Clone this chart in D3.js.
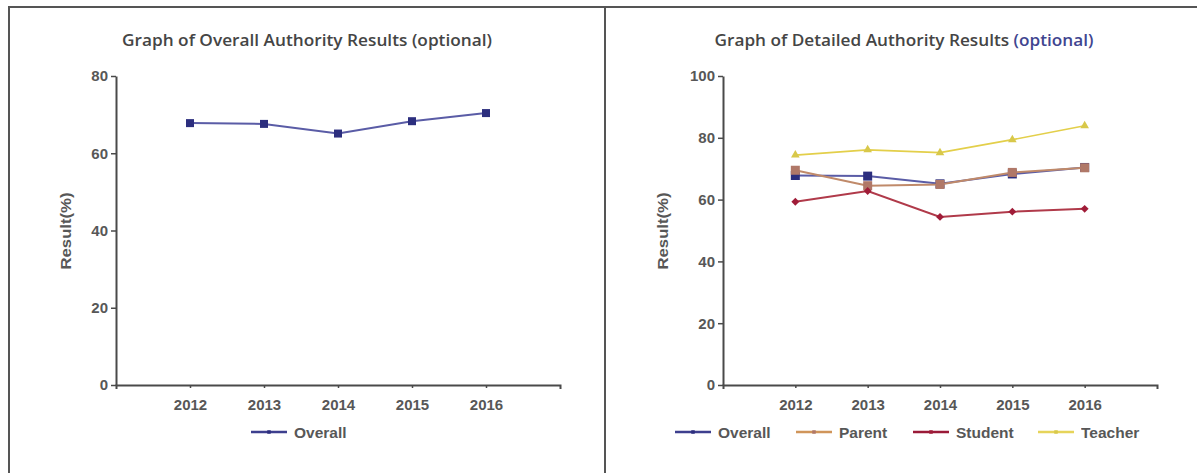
<!DOCTYPE html>
<html><head><meta charset="utf-8">
<script src="https://cdn.jsdelivr.net/npm/d3@7"></script>
<style>
html,body{margin:0;padding:0;background:#fff;}
svg{display:block;}
</style></head>
<body>
<svg id="c" width="1197" height="473"></svg>
<script>
const years = ["2012","2013","2014","2015","2016"];
const overall = [67.8, 67.6, 65.1, 68.3, 70.4];
const parent  = [69.5, 64.5, 64.9, 68.8, 70.3];
const student = [59.3, 62.8, 54.4, 56.1, 57.0];
const teacher = [74.4, 76.1, 75.2, 79.4, 83.9];
const leftTicks = [0, 20, 40, 60, 80];
const rightTicks = [0, 20, 40, 60, 80, 100];
const seriesNames = ["Overall", "Parent", "Student", "Teacher"];

const svg = d3.select("#c");
const axisColor = "#4a4a4a";
const textColor = "#3a3a3a";
const tickFont = "Liberation Sans, Arial, sans-serif";

// frame
svg.append("line").attr("x1",9).attr("x2",1197).attr("y1",7).attr("y2",7).attr("stroke","#555").attr("stroke-width",2.2);
svg.append("line").attr("x1",9).attr("x2",9).attr("y1",6).attr("y2",473).attr("stroke","#555").attr("stroke-width",2);
svg.append("line").attr("x1",605).attr("x2",605).attr("y1",6).attr("y2",473).attr("stroke","#555").attr("stroke-width",2);

function styleAxis(g){
  g.select(".domain").attr("stroke",axisColor).attr("stroke-width",2);
  g.selectAll(".tick line").attr("stroke",axisColor).attr("stroke-width",1.5);
  g.selectAll(".tick text").attr("fill",textColor).attr("font-family",tickFont)
    .attr("font-size",15).attr("font-weight","bold").style("opacity",0.85);
}

function marker(g, type, x, y, color, size){
  if(type==="square"){
    g.append("rect").attr("x",x-size/2).attr("y",y-size/2).attr("width",size).attr("height",size).attr("fill",color);
  } else if(type==="diamond"){
    g.append("path").attr("d",d3.symbol(d3.symbolDiamond2, size*size*1.1)()).attr("transform",`translate(${x},${y})`).attr("fill",color);
  } else if(type==="triangle"){
    g.append("path").attr("d",d3.symbol(d3.symbolTriangle, size*size*0.9)()).attr("transform",`translate(${x},${y})`).attr("fill",color);
  }
}

function panel(opts){
  const g = svg.append("g");
  const x = d3.scalePoint().domain(years).range([opts.x0, opts.x1]).padding(1);
  const y = d3.scaleLinear().domain([0, opts.ymax]).range([385, 76]);

  // title
  const t = g.append("text").attr("x",opts.titleX).attr("y",46).attr("text-anchor","middle")
    .attr("font-family","Open Sans, Noto Sans, sans-serif").attr("font-size",16.5).attr("font-weight",600)
    .attr("fill","#454545").attr("textLength",opts.titleW).attr("lengthAdjust","spacingAndGlyphs");
  t.append("tspan").text(opts.title);
  t.append("tspan").attr("fill",opts.optColor).text(" (optional)");

  // axes
  const ya = g.append("g").attr("transform",`translate(${opts.x0},0)`)
    .call(d3.axisLeft(y).tickValues(opts.ticks).tickSize(5).tickSizeOuter(0).tickPadding(3));
  styleAxis(ya);
  const xa = g.append("g").attr("transform","translate(0,385)")
    .call(d3.axisBottom(x).tickSize(3).tickSizeOuter(4).tickPadding(8));
  styleAxis(xa);
  xa.selectAll(".tick text").attr("dy","0.9em");

  // y label
  g.append("text").attr("transform",`translate(${opts.labelX},231) rotate(-90)`).attr("text-anchor","middle")
    .attr("dy","0.35em").attr("font-family",tickFont).attr("font-size",14.5)
    .attr("font-weight","bold").attr("fill",textColor).style("opacity",0.85)
    .attr("textLength",77).attr("lengthAdjust","spacingAndGlyphs").text("Result(%)");

  const line = d3.line().x((d,i)=>x(years[i])).y(d=>y(d));
  opts.series.forEach(s=>{
    g.append("path").datum(s.values).attr("d",line).attr("fill","none")
      .attr("stroke",s.lineColor).attr("stroke-width",s.width);
    s.values.forEach((v,i)=>marker(g, s.marker, x(years[i]), y(v), s.markColor, s.size));
  });

  // legend
  opts.series.forEach((s,i)=>{
    const lx = opts.legendX[i];
    g.append("line").attr("x1",lx).attr("x2",lx+36).attr("y1",432).attr("y2",432)
      .attr("stroke",s.legendColor).attr("stroke-width",2.5);
    marker(g, "square", lx+18, 432, s.markColor, 3.5);
    g.append("text").attr("x",lx+43).attr("y",432).attr("dy","0.36em")
      .attr("font-family",tickFont).attr("font-size",15.5)
      .attr("font-weight","bold").attr("fill",textColor).style("opacity",0.85)
      .text(seriesNames[i]);
  });
}

panel({
  x0:116, x1:560, ymax:80, ticks:leftTicks, titleX:307, titleW:370, labelX:66,
  title:"Graph of Overall Authority Results", optColor:"#454545",
  legendX:[251],
  series:[
    {values:overall, lineColor:"#5a5ca6", markColor:"#2c2e7e", legendColor:"#3d3f8e", marker:"square", size:8, width:2}
  ]
});

panel({
  x0:723, x1:1157, ymax:100, ticks:rightTicks, titleX:904, titleW:379, labelX:663,
  title:"Graph of Detailed Authority Results", optColor:"#3f4590",
  legendX:[675, 796, 913, 1038],
  series:[
    {values:overall, lineColor:"#5a5ca6", markColor:"#2c2e7e", legendColor:"#3d3f8e", marker:"square", size:9, width:2},
    {values:parent, lineColor:"#c08a6a", markColor:"#b07868", legendColor:"#d0955a", marker:"square", size:9, width:2},
    {values:student, lineColor:"#b03a4a", markColor:"#a01c38", legendColor:"#9a1a38", marker:"diamond", size:6, width:2},
    {values:teacher, lineColor:"#e3cf4a", markColor:"#d8c84a", legendColor:"#e6d45a", marker:"triangle", size:6, width:1.6}
  ]
});
</script>
</body></html>
